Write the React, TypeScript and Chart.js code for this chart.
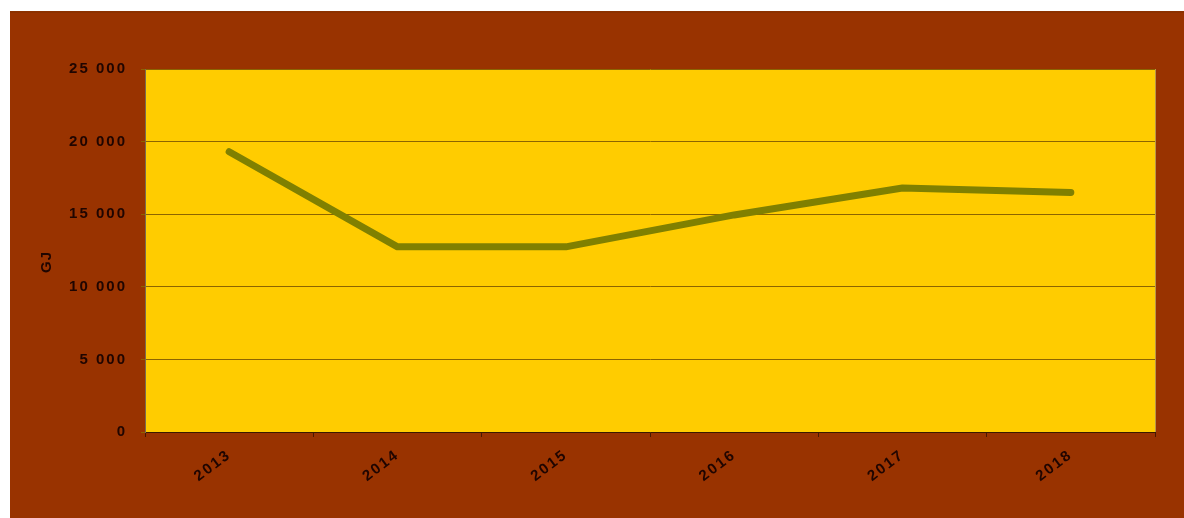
import React, { useEffect, useRef } from "react";
import { Chart, registerables } from "chart.js";

Chart.register(...registerables);

const categories = ["2013", "2014", "2015", "2016", "2017", "2018"];
const energyGJ = [19300, 12750, 12750, 14950, 16800, 16500];
const yAxisTitle = "GJ";
const yMin = 0;
const yMax = 25000;
const yStep = 5000;

const formatThousands = (v: number) =>
  String(v).replace(/\B(?=(\d{3})+(?!\d))/g, " ");

const FONT = "'Liberation Sans', Arial, sans-serif";
const TEXT = "#1f0500";

export default function App() {
  const ref = useRef<HTMLCanvasElement | null>(null);

  useEffect(() => {
    const canvas = ref.current;
    if (!canvas) return;

    const framePlugin = {
      id: "frame",
      beforeDraw(chart: any) {
        const { ctx, width, height, chartArea } = chart;
        ctx.save();
        ctx.fillStyle = "#ffffff";
        ctx.fillRect(0, 0, width, height);
        ctx.fillStyle = "#993300";
        ctx.fillRect(10, 11, width - 10, height - 11);
        ctx.fillStyle = "#8c3100";
        ctx.fillRect(10, 11, width - 10, 2);
        ctx.fillStyle = "#ffcc00";
        ctx.fillRect(
          chartArea.left,
          chartArea.top,
          chartArea.right - chartArea.left,
          chartArea.bottom - chartArea.top
        );
        ctx.restore();
        ctx.letterSpacing = "2px";
      },
      afterDraw(chart: any) {
        const { ctx, chartArea } = chart;
        ctx.save();
        ctx.letterSpacing = "0px";
        ctx.strokeStyle = "#b8964a";
        ctx.lineWidth = 1;
        ctx.beginPath();
        ctx.moveTo(chartArea.right + 0.5, chartArea.top);
        ctx.lineTo(chartArea.right + 0.5, chartArea.bottom);
        ctx.stroke();
        ctx.translate(47, 262);
        ctx.rotate(-Math.PI / 2);
        ctx.fillStyle = TEXT;
        ctx.font = `bold 15px ${FONT}`;
        ctx.textAlign = "center";
        ctx.textBaseline = "middle";
        ctx.letterSpacing = "1px";
        ctx.fillText(yAxisTitle, 0, 0);
        ctx.restore();
      },
    };

    const chart = new Chart(canvas, {
      type: "line",
      data: {
        labels: categories,
        datasets: [
          {
            data: energyGJ,
            borderColor: "#808000",
            borderWidth: 7,
            pointRadius: 0,
            tension: 0,
            borderCapStyle: "round",
            borderJoinStyle: "round",
            fill: false,
          },
        ],
      },
      options: {
        responsive: false,
        animation: false,
        layout: { padding: { top: 69, right: 29, left: 0, bottom: 0 } },
        plugins: {
          legend: { display: false },
          tooltip: { enabled: false },
          title: { display: false },
        },
        scales: {
          x: {
            type: "category",
            offset: true,
            afterFit: (scale: any) => {
              scale.height = 86;
            },
            grid: {
              offset: true,
              drawOnChartArea: false,
              drawTicks: true,
              tickLength: 5,
              color: "#4a1800",
            },
            border: { display: true, color: "#3a1a00", width: 1 },
            ticks: {
              color: TEXT,
              font: { family: FONT, size: 15, weight: "bold" },
              minRotation: 37,
              maxRotation: 37,
              padding: 9,
              autoSkip: false,
            },
          },
          y: {
            min: yMin,
            max: yMax,
            afterFit: (scale: any) => {
              scale.width = 145;
            },
            grid: {
              color: "#8c6400",
              lineWidth: 1,
              drawTicks: true,
              tickLength: 4,
            },
            border: { display: true, color: "#7a6a50", width: 1 },
            ticks: {
              stepSize: yStep,
              color: TEXT,
              padding: 14,
              font: { family: FONT, size: 15, weight: "bold" },
              callback: (v: any) => formatThousands(Number(v)),
            },
          },
        },
      },
      plugins: [framePlugin],
    } as any);

    return () => chart.destroy();
  }, []);

  return (
    <div
      style={{
        position: "absolute",
        left: 0,
        top: 0,
        width: 1184,
        height: 518,
        background: "#ffffff",
      }}
    >
      <canvas
        ref={ref}
        width={1184}
        height={518}
        style={{ display: "block", width: 1184, height: 518 }}
      />
    </div>
  );
}
